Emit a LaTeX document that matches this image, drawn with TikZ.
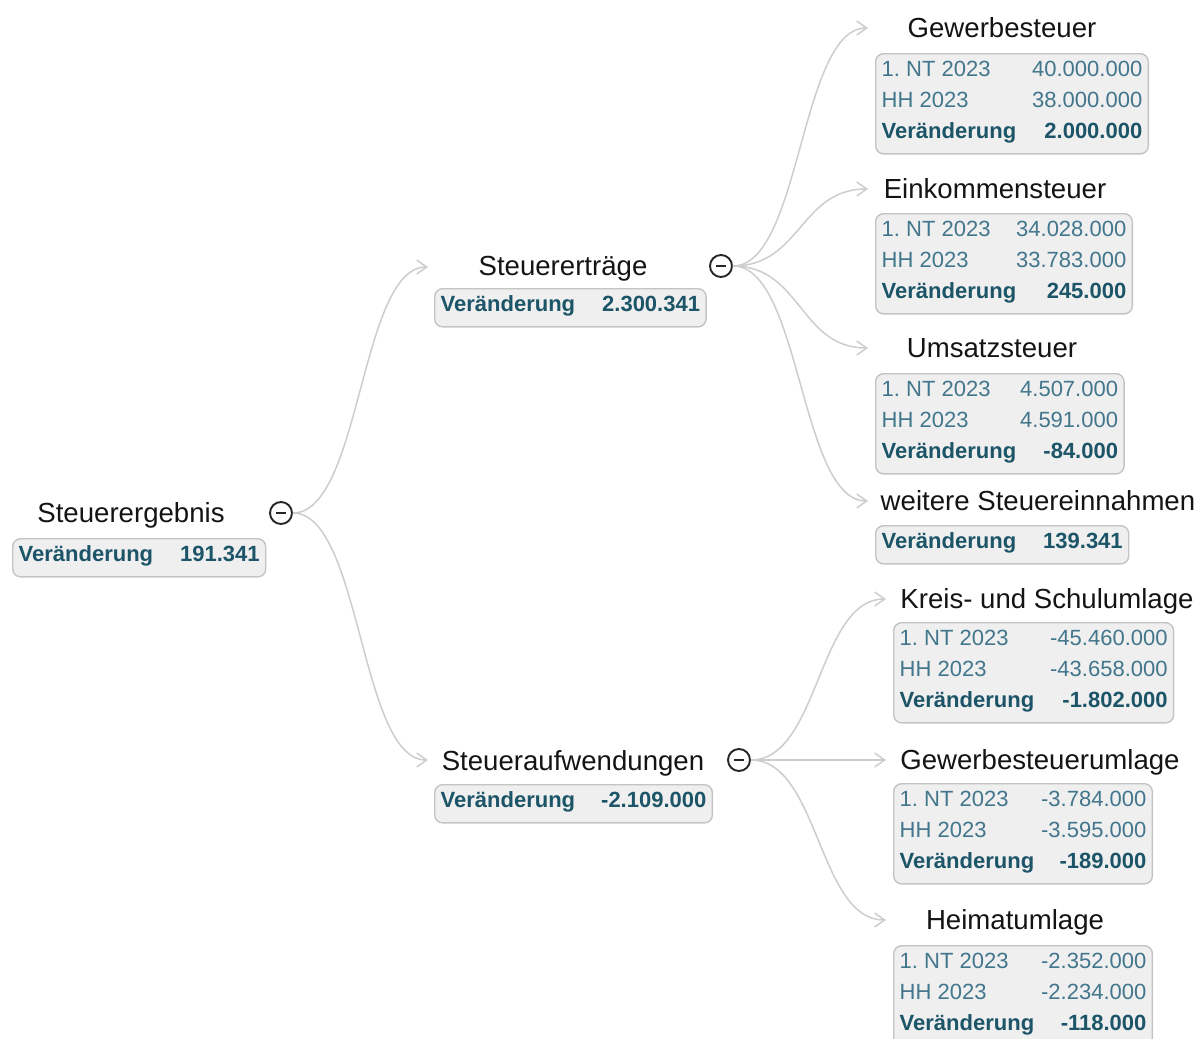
\documentclass[tikz,border=0pt]{standalone}
\usepackage{fontspec}
\setmainfont{Liberation Sans}
\definecolor{StTeal}{RGB}{66,118,140}
\definecolor{StDark}{RGB}{28,84,104}
\definecolor{StLine}{RGB}{205,205,205}
\definecolor{StBoxLine}{RGB}{196,196,196}
\definecolor{StBoxFill}{RGB}{239,239,239}
\definecolor{StTitle}{RGB}{20,20,20}
\usetikzlibrary{arrows.meta}

\newcommand{\aend}[1]{\textcolor{StDark}{\bfseries #1}}
\newcommand{\drei}[4]{\raisebox{1.5pt}[\height][\depth]{\begin{tabular}{@{}l@{\hspace{#1}}r@{}}
1.\ NT 2023 & #2\\
HH 2023 & #3\\
\aend{Veränderung} & \aend{#4}
\end{tabular}}}
\newcommand{\eins}[2]{\raisebox{1.5pt}[\height][\depth]{\begin{tabular}{@{}l@{\hspace{#1}}r@{}}
\aend{Veränderung} & \aend{#2}
\end{tabular}}}

\begin{document}
\begin{tikzpicture}[
    x=0.5pt, y=-0.5pt,
    titel/.style={anchor=base, inner sep=0pt, text=StTitle, font=\fontsize{13.8}{16}\selectfont},
    werte/.style={anchor=north west, draw=StBoxLine, fill=StBoxFill, line width=0.7pt, rounded corners=4pt, inner xsep=3pt, inner ysep=1.8pt, text=StTeal, font=\fontsize{11}{15.5}\selectfont},
    knopf/.style={circle, draw=black!85, line width=0.95pt, minimum size=11pt, inner sep=0pt,
        path picture={\draw[line width=0.9pt] ([xshift=-2.4pt]path picture bounding box.center) -- ([xshift=2.4pt]path picture bounding box.center);}},
    link/.style={draw=StLine, line width=0.75pt, -{Straight Barb[length=5pt, width=7pt]}}
]
    \useasboundingbox (0,0) rectangle (1200,1039);

    \node[titel] (tErg) at (131,522) {Steuerergebnis};
    \node[werte] (bErg) at (12,538) {\eins{13.5pt}{191.341}};
    \node[knopf] (cErg) at (281,513) {};

    \node[titel] (tErt) at (563,275) {Steuererträge};
    \node[werte] (bErt) at (434,288) {\eins{13.5pt}{2.300.341}};
    \node[knopf] (cErt) at (721,266) {};

    \node[titel] (tAuf) at (573,770) {Steueraufwendungen};
    \node[werte] (bAuf) at (434,784) {\eins{13pt}{-2.109.000}};
    \node[knopf] (cAuf) at (739,760) {};

    \node[titel] (tGew) at (1002,37) {Gewerbesteuer};
    \node[werte] (bGew) at (875,53) {\drei{8pt}{40.000.000}{38.000.000}{2.000.000}};
    \node[titel] (tEin) at (995,198) {Einkommensteuer};
    \node[werte] (bEin) at (875,213) {\drei{0pt}{34.028.000}{33.783.000}{245.000}};
    \node[titel] (tUms) at (992,357) {Umsatzsteuer};
    \node[werte] (bUms) at (875,373) {\drei{2pt}{4.507.000}{4.591.000}{-84.000}};
    \node[titel] (tWei) at (1038,510) {weitere Steuereinnahmen};
    \node[werte] (bWei) at (875,525) {\eins{13.5pt}{139.341}};

    \node[titel] (tKre) at (1047,608) {Kreis- und Schulumlage};
    \node[werte] (bKre) at (893,622) {\drei{8pt}{-45.460.000}{-43.658.000}{-1.802.000}};
    \node[titel] (tGwu) at (1040,769) {Gewerbesteuerumlage};
    \node[werte] (bGwu) at (893,783) {\drei{3.5pt}{-3.784.000}{-3.595.000}{-189.000}};
    \node[titel] (tHei) at (1015,929) {Heimatumlage};
    \node[werte] (bHei) at (893,945) {\drei{3.5pt}{-2.352.000}{-2.234.000}{-118.000}};

    \coordinate (pErt) at (428,267);
    \coordinate (pAuf) at (428,760);
    \coordinate (pGew) at (868,28);
    \coordinate (pEin) at (868,189);
    \coordinate (pUms) at (868,348);
    \coordinate (pWei) at (868,501);
    \coordinate (pKre) at (886,599);
    \coordinate (pGwu) at (886,760);
    \coordinate (pHei) at (886,920);

    \draw[link] (cErg.east) .. controls +(68,0) and +(-68,0) .. (pErt);
    \draw[link] (cErg.east) .. controls +(68,0) and +(-68,0) .. (pAuf);
    \foreach \ziel in {pGew,pEin,pUms,pWei}
        \draw[link] (cErt.east) .. controls +(68,0) and +(-68,0) .. (\ziel);
    \foreach \ziel in {pKre,pGwu,pHei}
        \draw[link] (cAuf.east) .. controls +(68,0) and +(-68,0) .. (\ziel);
\end{tikzpicture}
\end{document}
